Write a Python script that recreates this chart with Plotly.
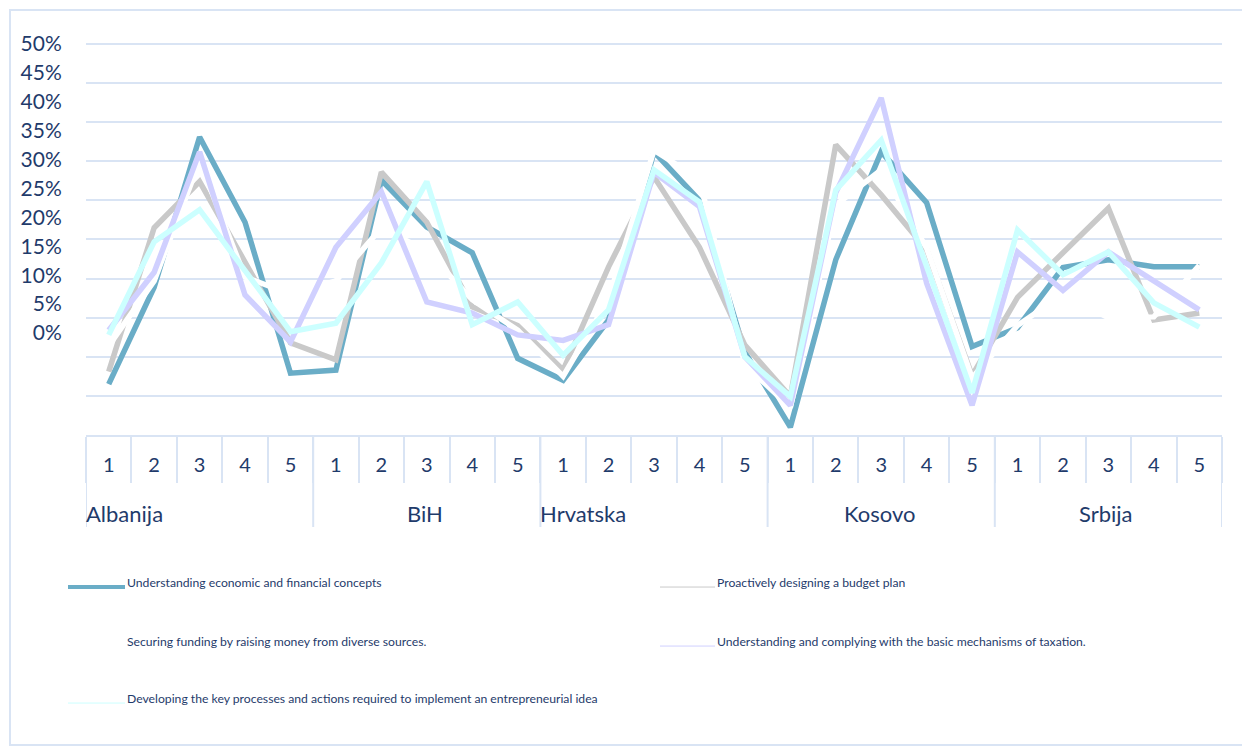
import plotly.graph_objects as go

# ---- data (values in %) ----
countries = ["Albanija", "BiH", "Hrvatska", "Kosovo", "Srbija"]
levels = ["1", "2", "3", "4", "5"]

economic_concepts = [6.5, 18.9, 38.1, 27.2, 7.9,
                     8.3, 32.6, 26.6, 23.3, 9.8,
                     7.0, 14.7, 36.2, 30.0, 10.6,
                     1.0, 22.4, 36.2, 29.7, 11.3,
                     13.7, 21.4, 22.4, 21.5, 21.5]
budget_plan = [8.1, 26.5, 32.4, 22.1, 11.8,
               9.6, 33.6, 27.2, 16.4, 14.0,
               8.3, 21.5, 33.0, 24.0, 11.5,
               4.9, 37.1, 30.7, 23.7, 7.6,
               17.6, 23.3, 29.0, 14.7, 15.6]
securing_funding = [11.4, 19.7, 35.0, 20.2, 18.0,
                    19.7, 26.5, 23.5, 17.3, 13.4,
                    7.5, 17.4, 36.4, 32.7, 9.0,
                    3.5, 29.4, 33.9, 23.9, 7.3,
                    14.0, 18.0, 15.0, 15.1, 21.7]
taxation = [13.4, 20.8, 36.2, 17.9, 11.9,
            24.0, 31.1, 17.0, 15.6, 12.8,
            12.1, 14.1, 33.6, 29.2, 10.0,
            3.8, 31.0, 43.1, 19.4, 3.8,
            23.4, 18.5, 23.4, 19.6, 16.0]
key_processes = [12.8, 24.7, 28.8, 21.1, 13.2,
                 14.3, 22.0, 32.4, 14.1, 17.0,
                 10.2, 16.0, 33.9, 29.8, 10.0,
                 4.9, 31.3, 37.7, 21.5, 5.4,
                 26.2, 20.5, 23.4, 16.9, 13.8]

series_names = [
    "Understanding economic and financial concepts",
    "Proactively designing a budget plan",
    "Securing funding by raising money from diverse sources.",
    "Understanding and complying with the basic mechanisms of taxation.",
    "Developing the key processes and actions required to implement an entrepreneurial idea",
]
series_values = [economic_concepts, budget_plan, securing_funding, taxation, key_processes]
y_ticks = [0, 5, 10, 15, 20, 25, 30, 35, 40, 45, 50]

# ---- style ----
colors = ["#6AADC7", "#C9C9C9", "#FFFFFF", "#D0D0FF", "#CCFFFF"]
legend_widths = [4, 1, 1, 1, 1]
group_align = ["left", "center", "left", "center", "center"]
grid = "#D9E4F4"
navy = "#1F3B6B"
font = "Lato"

# page body has an 8px margin, so work in screen pixels and shift
OFF = 8
W, H = 1250 - OFF, 749 - OFF
plot_left, plot_right = 86 - OFF, 1222 - OFF
y_top_val, y_bot = 44 - OFF, 435 - OFF      # where 50% and 0% sit
y_max = 50.5
pw = plot_right - plot_left
ph = (y_bot - y_top_val) * y_max / 50
L, R = plot_left, W - plot_right
T, B = y_bot - ph, H - y_bot


def px_x(px):
    return (px - OFF - L) / pw


def px_y(py):
    return (y_bot - (py - OFF)) / ph


cats = [f"{c} {l}" for c in countries for l in levels]
tick_text = [l for c in countries for l in levels]

fig = go.Figure()
for name, vals, col in zip(series_names, series_values, colors):
    fig.add_trace(
        go.Scatter(
            x=cats,
            y=vals,
            mode="lines",
            name=name,
            line=dict(color=col, width=5.5),
            showlegend=False,
            hoverinfo="skip",
        )
    )
# empty trace so the label axis gets drawn
fig.add_trace(go.Scatter(x=[], y=[], yaxis="y2", showlegend=False, hoverinfo="skip"))

# label axis: labels are squeezed relative to the gridlines, like in the source
f0, f50 = px_y(333), px_y(44)
span = 50 / (f50 - f0)
r0 = -f0 * span
fig.update_layout(
    yaxis2=dict(
        overlaying="y",
        side="left",
        range=[r0, r0 + span],
        tickvals=y_ticks,
        ticktext=[f"{v}%" for v in y_ticks],
        showgrid=False,
        zeroline=False,
        showline=False,
        ticks="outside",
        ticklen=19,
        tickcolor="rgba(0,0,0,0)",
        tickfont=dict(family=font, size=21, color=navy),
    )
)

# group dividers and labels
n = len(levels)
for g, c in enumerate(countries):
    fig.add_shape(
        type="line", xref="x", yref="paper",
        x0=g * n - 0.5, x1=g * n - 0.5, y0=0, y1=px_y(527),
        line=dict(color=grid, width=2),
    )
    if group_align[g] == "left":
        xpos, anchor = g * n - 0.5, "left"
    else:
        xpos, anchor = g * n + (n - 1) / 2, "center"
    fig.add_annotation(
        x=xpos, y=px_y(513), xref="x", yref="paper", text=c,
        showarrow=False, xanchor=anchor, yanchor="middle", xshift=-2,
        font=dict(family=font, size=22, color=navy),
    )
fig.add_shape(
    type="line", xref="x", yref="paper",
    x0=len(cats) - 0.5, x1=len(cats) - 0.5, y0=0, y1=px_y(527),
    line=dict(color=grid, width=2),
)

# custom legend (two columns, three rows)
col_x0 = [68, 660]
col_x1 = [125, 715]
row_y = [582, 641, 698]
for i, (name, col, lw) in enumerate(zip(series_names, colors, legend_widths)):
    c, r = i % 2, i // 2
    fig.add_shape(
        type="line", xref="paper", yref="paper",
        x0=px_x(col_x0[c]), x1=px_x(col_x1[c]),
        y0=px_y(row_y[r] + 5), y1=px_y(row_y[r] + 5),
        line=dict(color=col, width=lw),
    )
    fig.add_annotation(
        x=px_x(col_x1[c]), y=px_y(row_y[r]), xref="paper", yref="paper",
        text=name, showarrow=False, xanchor="left", yanchor="middle",
        font=dict(family=font, size=12.2, color=navy),
    )

# outer frame
fig.add_shape(
    type="rect", xref="paper", yref="paper",
    x0=px_x(10), x1=px_x(1245), y0=px_y(745), y1=px_y(10),
    line=dict(color=grid, width=2), fillcolor="rgba(0,0,0,0)", layer="below",
)

fig.update_layout(
    width=W,
    height=H,
    margin=dict(l=L, r=R, t=T, b=B, pad=0),
    paper_bgcolor="white",
    plot_bgcolor="white",
    showlegend=False,
    xaxis=dict(
        type="category",
        tickvals=cats,
        ticktext=tick_text,
        tickson="boundaries",
        ticks="outside",
        ticklen=46,
        tickwidth=2,
        tickcolor=grid,
        showline=True,
        linecolor=grid,
        linewidth=2,
        showgrid=False,
        ticklabelstandoff=11,
        tickfont=dict(family=font, size=20, color=navy),
        range=[-0.5, len(cats) - 0.5],
    ),
    yaxis=dict(
        range=[0, y_max],
        dtick=5,
        showticklabels=False,
        showgrid=True,
        gridcolor=grid,
        gridwidth=2,
        zeroline=False,
    ),
)

fig.write_html("out.html")
